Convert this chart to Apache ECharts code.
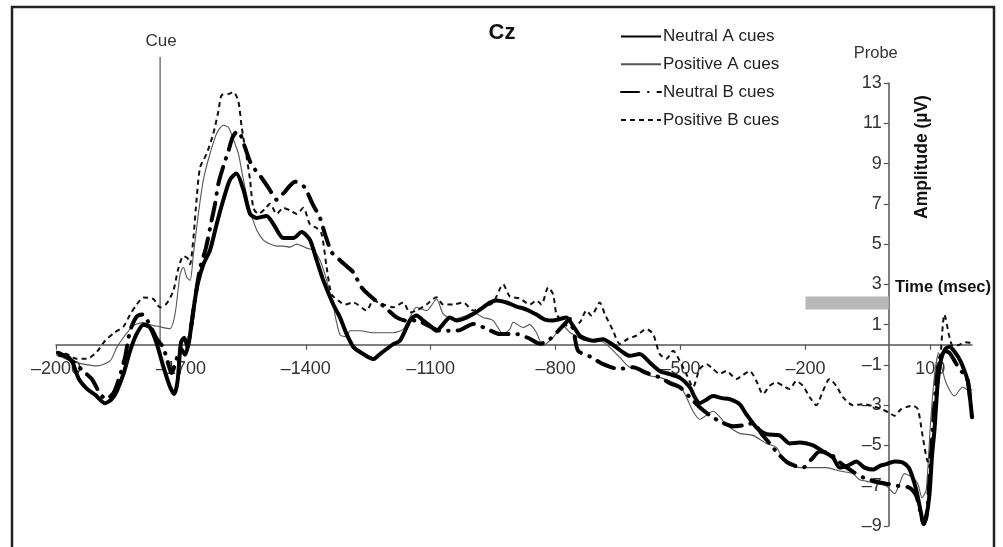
<!DOCTYPE html>
<html><head><meta charset="utf-8">
<script src="https://cdn.jsdelivr.net/npm/echarts@6/dist/echarts.min.js"></script>
<style>html,body{margin:0;padding:0;background:#fff}#c{width:1003px;height:547px}</style>
</head><body><div id="c"></div>
<script>
const xTicks = [-2000,-1700,-1400,-1100,-800,-500,-200,100];
const yTicks = [-9,-7,-5,-3,-1,1,3,5,7,9,11,13];
const seriesNames = ['Neutral A cues','Positive A cues','Neutral B cues','Positive B cues'];
const cueTime = -1750;
const cueTop = 14.3;
const baselineFrom = [-200, 2.4];
const baselineTo = [0, 1.75];

const neutralA = [[-1995,-0.5],[-1975,-0.55],[-1960,-0.9],[-1945,-1.7],[-1925,-2.2],[-1905,-2.5],[-1882,-2.9],[-1866,-2.7],[-1854,-2.3],[-1838,-1.45],[-1822,-0.3],[-1806,0.55],[-1790,1.0],[-1774,0.85],[-1758,0.05],[-1742,-1.1],[-1726,-2.1],[-1716,-2.45],[-1708,-1.8],[-1700,0.1],[-1692,0.35],[-1684,-0.1],[-1676,0.8],[-1668,2.0],[-1660,3.0],[-1646,4.0],[-1630,4.7],[-1614,6.0],[-1598,7.2],[-1582,8.2],[-1567,8.5],[-1550,7.7],[-1534,6.5],[-1518,6.3],[-1494,6.4],[-1478,6.0],[-1454,5.3],[-1430,5.3],[-1410,5.6],[-1390,5.2],[-1374,4.2],[-1358,3.2],[-1334,2.0],[-1318,1.36],[-1302,0.53],[-1285,-0.13],[-1262,-0.46],[-1238,-0.71],[-1222,-0.46],[-1206,-0.21],[-1190,0.03],[-1174,0.2],[-1158,0.86],[-1150,1.2],[-1134,1.45],[-1118,1.2],[-1102,0.95],[-1086,0.7],[-1070,1.03],[-1054,1.36],[-1038,1.2],[-1022,1.28],[-998,1.53],[-974,1.86],[-958,2.1],[-942,2.2],[-918,2.1],[-894,1.9],[-870,1.75],[-846,1.5],[-826,1.25],[-806,1.2],[-790,1.28],[-774,1.36],[-758,0.94],[-742,0.45],[-726,0.28],[-710,0.2],[-686,0.28],[-670,0.1],[-654,-0.13],[-638,-0.38],[-622,-0.55],[-598,-0.46],[-574,-0.88],[-550,-1.3],[-526,-1.46],[-502,-1.63],[-478,-2.1],[-466,-2.6],[-454,-2.9],[-440,-2.75],[-422,-2.55],[-400,-2.65],[-382,-2.7],[-358,-2.95],[-342,-3.45],[-318,-4.1],[-294,-4.44],[-262,-4.5],[-238,-4.9],[-214,-4.85],[-182,-5.0],[-158,-5.3],[-134,-5.6],[-118,-6.1],[-98,-6.0],[-78,-5.8],[-58,-6.1],[-38,-6.2],[-20,-6.0],[-6,-5.93],[14,-5.8],[34,-5.85],[48,-6.1],[56,-6.5],[66,-7.2],[76,-8.2],[84,-8.9],[90,-8.6],[98,-7.4],[104,-5.5],[110,-4.2],[118,-1.8],[126,-0.7],[136,-0.2],[146,-0.1],[160,-0.4],[172,-0.8],[182,-1.3],[190,-1.8],[196,-2.8],[200,-3.6]];

const positiveA = [[-2000,-0.5],[-1965,-0.8],[-1934,-0.96],[-1902,-1.05],[-1870,-0.8],[-1854,-0.13],[-1838,0.36],[-1814,0.95],[-1790,1.1],[-1766,0.95],[-1750,0.9],[-1742,0.85],[-1726,0.8],[-1714,1.53],[-1702,3.5],[-1694,3.85],[-1686,3.35],[-1678,3.2],[-1670,4.5],[-1658,6.5],[-1646,8.2],[-1630,9.5],[-1614,10.5],[-1598,10.9],[-1586,10.8],[-1574,10.2],[-1562,9.5],[-1550,8.2],[-1534,6.7],[-1518,5.7],[-1502,5.2],[-1486,5.0],[-1470,4.9],[-1454,4.9],[-1438,4.85],[-1422,5.0],[-1398,4.8],[-1382,4.7],[-1366,4.2],[-1350,3.2],[-1334,1.9],[-1318,0.5],[-1302,0.4],[-1294,0.7],[-1270,0.7],[-1238,0.6],[-1190,0.6],[-1166,0.78],[-1150,1.36],[-1134,1.86],[-1110,1.7],[-1086,2.27],[-1070,1.53],[-1046,1.28],[-1014,1.45],[-998,1.6],[-974,1.36],[-950,1.2],[-926,0.53],[-910,0.78],[-902,1.12],[-878,0.86],[-862,1.0],[-846,0.6],[-830,-0.05],[-806,0.37],[-782,0.94],[-766,0.62],[-726,0.2],[-694,0.2],[-670,-0.13],[-646,-0.63],[-622,-1.12],[-598,-1.2],[-574,-1.54],[-550,-1.62],[-526,-1.8],[-502,-2.04],[-486,-2.6],[-470,-3.3],[-454,-3.7],[-422,-3.3],[-390,-3.96],[-358,-4.4],[-326,-4.5],[-294,-4.9],[-270,-5.1],[-246,-5.9],[-214,-6.1],[-180,-6.1],[-150,-6.1],[-118,-6.27],[-86,-6.4],[-70,-6.7],[-54,-6.77],[-30,-6.9],[-6,-7.0],[14,-7.4],[26,-6.9],[38,-6.4],[58,-6.6],[70,-6.9],[80,-7.6],[90,-7.2],[100,-4.0],[110,-1.5],[120,-0.4],[128,-1.2],[140,-2.0],[158,-2.54],[178,-2.1],[194,-2.3],[200,-2.2]];

const neutralB = [[-1995,-0.4],[-1975,-0.6],[-1955,-0.9],[-1935,-1.3],[-1914,-1.7],[-1895,-2.4],[-1880,-2.7],[-1862,-2.4],[-1846,-1.5],[-1834,-0.6],[-1822,0.7],[-1806,1.4],[-1792,1.5],[-1775,1.0],[-1758,0.3],[-1742,-0.15],[-1734,-0.7],[-1722,-1.4],[-1712,-0.8],[-1700,-0.2],[-1690,-0.5],[-1680,0.3],[-1668,2.0],[-1654,3.8],[-1640,4.8],[-1628,6.0],[-1618,7.0],[-1610,8.0],[-1596,9.0],[-1586,9.6],[-1576,10.3],[-1564,10.6],[-1558,10.5],[-1546,9.8],[-1534,9.1],[-1522,8.7],[-1510,8.4],[-1490,7.8],[-1478,7.4],[-1470,7.2],[-1460,7.4],[-1450,7.6],[-1438,7.9],[-1426,8.1],[-1414,8.0],[-1402,7.8],[-1384,7.0],[-1366,6.3],[-1354,5.5],[-1338,4.6],[-1318,4.2],[-1302,3.9],[-1286,3.6],[-1266,2.85],[-1242,2.36],[-1212,1.9],[-1182,1.36],[-1158,1.2],[-1134,1.2],[-1106,0.95],[-1078,0.7],[-1054,0.7],[-1030,0.73],[-998,1.03],[-966,0.8],[-934,0.53],[-894,0.53],[-862,0.3],[-838,0.05],[-814,0.28],[-782,0.95],[-766,1.28],[-756,0.6],[-746,-0.3],[-716,-0.6],[-686,-0.96],[-648,-1.2],[-614,-1.12],[-582,-1.4],[-550,-1.62],[-522,-1.95],[-502,-2.1],[-478,-2.6],[-454,-3.1],[-430,-3.5],[-406,-3.8],[-374,-4.05],[-350,-4.0],[-326,-3.9],[-306,-4.4],[-286,-4.9],[-266,-5.4],[-246,-5.8],[-226,-6.0],[-206,-6.1],[-186,-5.7],[-166,-5.3],[-142,-5.4],[-114,-5.9],[-86,-6.3],[-60,-6.6],[-30,-6.8],[-6,-6.9],[20,-7.0],[50,-7.1],[66,-7.5],[76,-8.3],[84,-8.9],[92,-8.3],[100,-6.0],[108,-3.5],[116,-1.5],[124,-0.6],[134,-0.3],[146,-0.4],[158,-0.8],[170,-1.2],[182,-1.5],[190,-1.8],[196,-2.8],[200,-3.6]];

const positiveB = [[-2000,-0.35],[-1975,-0.45],[-1950,-0.7],[-1926,-0.7],[-1902,-0.35],[-1882,0.2],[-1860,0.6],[-1838,0.9],[-1822,1.5],[-1806,2.0],[-1790,2.35],[-1766,2.27],[-1750,1.86],[-1734,2.05],[-1718,2.7],[-1706,3.8],[-1694,4.4],[-1684,4.3],[-1678,4.0],[-1670,5.3],[-1662,7.3],[-1654,8.8],[-1638,9.5],[-1622,10.5],[-1610,11.6],[-1602,12.4],[-1586,12.45],[-1574,12.55],[-1562,12.1],[-1554,10.8],[-1542,9.3],[-1534,8.2],[-1526,6.8],[-1514,6.5],[-1498,6.75],[-1486,7.0],[-1470,6.5],[-1454,6.8],[-1438,6.67],[-1422,6.5],[-1406,6.8],[-1390,5.97],[-1374,5.8],[-1362,5.5],[-1350,3.85],[-1338,2.5],[-1322,2.2],[-1306,2.0],[-1286,2.1],[-1254,1.7],[-1238,2.2],[-1214,2.0],[-1190,1.86],[-1166,2.1],[-1150,1.6],[-1134,1.7],[-1110,2.0],[-1086,2.36],[-1070,2.0],[-1046,2.0],[-1022,2.1],[-998,1.7],[-974,1.86],[-950,2.1],[-926,3.0],[-910,2.4],[-886,2.3],[-862,2.0],[-846,2.2],[-834,2.0],[-818,2.85],[-806,2.5],[-798,1.53],[-782,1.12],[-766,0.86],[-742,1.11],[-726,1.7],[-714,1.45],[-694,2.1],[-682,1.53],[-662,0.7],[-646,0.04],[-626,0.3],[-606,0.45],[-582,0.78],[-566,0.53],[-550,-0.46],[-534,-0.7],[-518,-0.3],[-502,-0.8],[-486,-1.46],[-470,-2.1],[-454,-1.2],[-438,-0.96],[-422,-1.2],[-406,-1.45],[-390,-1.3],[-366,-1.7],[-350,-1.5],[-334,-1.3],[-318,-1.8],[-302,-2.45],[-286,-2.04],[-270,-1.87],[-254,-2.04],[-238,-2.2],[-222,-1.8],[-206,-2.04],[-190,-2.6],[-174,-3.0],[-158,-2.3],[-142,-1.7],[-126,-2.04],[-110,-2.6],[-86,-3.0],[-60,-2.95],[-30,-3.1],[1,-3.37],[14,-3.53],[30,-3.2],[58,-3.03],[70,-3.2],[82,-4.6],[94,-5.8],[106,-4.6],[122,-1.3],[134,1.5],[146,0.37],[154,-0.05],[170,0.0],[182,0.12],[194,0.1],[200,-0.1]];

const FONT = 'Liberation Sans, Arial, Helvetica, sans-serif';
const dashFmt = v => String(v).replace('-', '\u2013');

const GRID = {left: 56, right: 31, top: 83, bottom: 21};
const W = 1003, H = 547;
const X_MIN = -2000, X_MAX = 200, Y_MIN = -9, Y_MAX = 13;
// offsets that move each axis onto the other axis's zero line (computed from the scales)
const gridW = W - GRID.left - GRID.right, gridH = H - GRID.top - GRID.bottom;
const yAxisOffset = -((0 - X_MIN) / (X_MAX - X_MIN) * gridW);
const xAxisOffset = -((0 - Y_MIN) / (Y_MAX - Y_MIN) * gridH);

const chart = echarts.init(document.getElementById('c'), null, {renderer: 'canvas'});
const option = {
  animation: false,
  backgroundColor: '#fff',
  grid: Object.assign({containLabel: false, show: false}, GRID),
  legend: {
    data: seriesNames, orient: 'vertical', left: 620, top: 28, padding: 0,
    itemWidth: 40, itemHeight: 18, itemGap: 10.8,
    itemStyle: {opacity: 0},
    textStyle: {fontFamily: FONT, fontSize: 17, color: '#222', padding: [0,0,0,-3]},
    selectedMode: false
  },
  xAxis: {
    type: 'value', min: X_MIN, max: X_MAX, interval: 300, position: 'bottom', offset: xAxisOffset,
    axisLine: {show: true, onZero: false, lineStyle: {color: '#555', width: 1.5}},
    axisTick: {show: true, length: 5, customValues: xTicks, lineStyle: {color: '#555', width: 1.2}},
    axisLabel: {customValues: xTicks, formatter: dashFmt, fontFamily: FONT, fontSize: 18, color: '#333', margin: 15},
    splitLine: {show: false}
  },
  yAxis: {
    type: 'value', min: Y_MIN, max: Y_MAX, interval: 2, position: 'left', offset: yAxisOffset,
    axisLine: {show: true, onZero: false, lineStyle: {color: '#555', width: 1.5}},
    axisTick: {show: true, length: 5, customValues: yTicks, lineStyle: {color: '#555', width: 1.2}},
    axisLabel: {customValues: yTicks, formatter: dashFmt, fontFamily: FONT, fontSize: 18, color: '#333', margin: 7},
    splitLine: {show: false}
  },
  series: [
    {type: 'line', name: 'cue', data: [[cueTime, 0], [cueTime, cueTop]], clip: false, symbol: 'none', silent: true,
     lineStyle: {color: '#333', width: 1}, z: 1,
     markArea: {silent: true, itemStyle: {color: '#b8b8b8'}, data: [[{coord: baselineFrom}, {coord: baselineTo}]]}},
    {type: 'line', name: seriesNames[1], data: positiveA, symbol: 'none', smooth: 0.25,
     lineStyle: {color: '#555', width: 1.1}, itemStyle: {color: '#777'}, z: 2},
    {type: 'line', name: seriesNames[3], data: positiveB, symbol: 'none', smooth: 0.25,
     lineStyle: {color: '#111', width: 2, type: [5, 4]}, itemStyle: {color: '#111'}, z: 3},
    {type: 'line', name: seriesNames[2], data: neutralB, symbol: 'none', smooth: 0.25,
     lineStyle: {color: '#000', width: 4, type: [18, 9, 0.5, 9], cap: 'round'}, itemStyle: {color: '#000'}, z: 4},
    {type: 'line', name: seriesNames[0], data: neutralA, symbol: 'none', smooth: 0.25,
     lineStyle: {color: '#000', width: 4}, itemStyle: {color: '#000'}, z: 5}
  ]
};
chart.setOption(option);

const cuePx = chart.convertToPixel({gridIndex: 0}, [cueTime, cueTop]);
const probePx = chart.convertToPixel({gridIndex: 0}, [0, Y_MAX]);
chart.setOption({
  graphic: [
    {type: 'rect', shape: {x: 12, y: 7, width: 982, height: 570}, style: {fill: 'none', stroke: '#222', lineWidth: 2.5}, silent: true},
    {type: 'text', x: 502, y: 33, style: {text: 'Cz', font: 'bold 22px ' + FONT, fill: '#111', align: 'center', verticalAlign: 'middle'}},
    {type: 'text', x: cuePx[0] + 1, y: cuePx[1] - 16, style: {text: 'Cue', font: '17px ' + FONT, fill: '#333', align: 'center', verticalAlign: 'middle'}},
    {type: 'text', x: probePx[0] - 13, y: probePx[1] - 30, style: {text: 'Probe', font: '16.5px ' + FONT, fill: '#333', align: 'center', verticalAlign: 'middle'}},
    {type: 'text', x: 895, y: 287, style: {text: 'Time (msec)', font: 'bold 16.5px ' + FONT, fill: '#111', align: 'left', verticalAlign: 'middle'}},
    {type: 'text', x: 922, y: 157, rotation: Math.PI / 2, style: {text: 'Amplitude (\u00b5V)', font: 'bold 17.5px ' + FONT, fill: '#111', align: 'center', verticalAlign: 'middle'}}
  ]
});
</script>
</body></html>
